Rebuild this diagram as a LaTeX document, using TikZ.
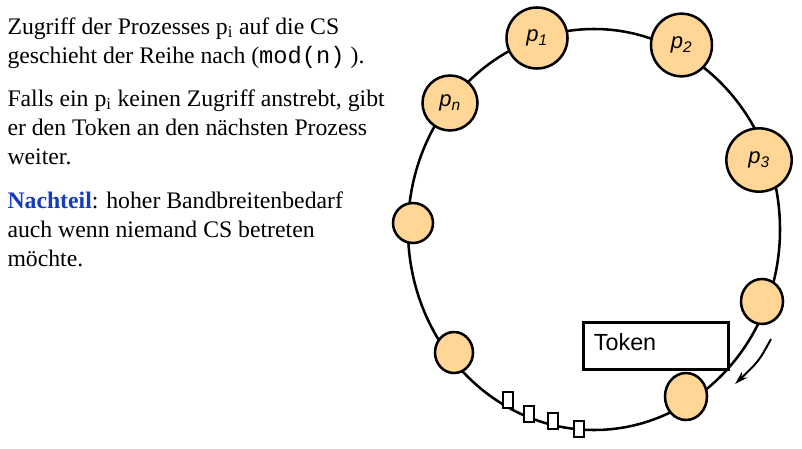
\documentclass[tikz,border=0pt]{standalone}
\usepackage{fontspec}
\setmainfont{Liberation Serif}
\setsansfont{Liberation Sans}
\setmonofont{Liberation Mono}
\usetikzlibrary{shapes.geometric,arrows.meta}

\definecolor{procfill}{RGB}{255,214,150}
\definecolor{noteblue}{RGB}{20,60,190}
\newcommand{\plabel}[1]{\textit{p}\textsubscript{\textit{#1}}}

\tikzset{every picture/.style={line width=0.75pt}}
\tikzset{
  ringline/.style={line width=1.9pt},
  pnode/.style={ellipse, draw, line width=1.9pt, fill=procfill, inner sep=0pt,
    font=\sffamily\fontsize{16.5}{16.5}\selectfont},
  slotbox/.style={draw, line width=1.5pt, fill=white, inner sep=0pt,
    minimum width=7.5pt, minimum height=12pt},
  tokenbox/.style={draw, line width=1.9pt, inner xsep=8pt, inner ysep=0pt,
    text height=21pt, text depth=14.25pt, text width=93pt, align=left,
    font=\sffamily\fontsize{17.5}{17.5}\selectfont},
  bodytext/.style={inner sep=0pt, align=left, anchor=north west,
    font=\fontsize{17.8}{21.75}\selectfont}
}

\begin{document}
\begin{tikzpicture}[x=0.75pt,y=0.75pt,yscale=-1,xscale=1]
\useasboundingbox (0,0) rectangle (802,449);

%Text [id:tx1]
\node[bodytext] (txa) at (7,17) {Zugriff der Prozesses p\textsubscript{i} auf die CS\\
  geschieht der Reihe nach (\texttt{mod(n)} ).};
%Text [id:tx2]
\node[bodytext] (txb) at (7,89) {Falls ein p\textsubscript{i} keinen Zugriff anstrebt, gibt\\
  er den Token an den nächsten Prozess\\ weiter.};
%Text [id:tx3]
\node[bodytext] (txc) at (7,191) {\textcolor{noteblue}{\textbf{Nachteil}}: hoher Bandbreitenbedarf\\
  auch wenn niemand CS betreten\\ möchte.};

%Shape: Ellipse [id:ring]
\coordinate (ringc) at (594,229.5);
\draw[ringline] (ringc) ellipse [x radius=186, y radius=200.5];

%Shape: Rectangle [id:sl1]
\node[slotbox] (sl1) at (508,400) {};
%Shape: Rectangle [id:sl2]
\node[slotbox] (sl2) at (529,414) {};
%Shape: Rectangle [id:sl3]
\node[slotbox] (sl3) at (553,420.5) {};
%Shape: Rectangle [id:sl4]
\node[slotbox] (sl4) at (578.5,429) {};

%Shape: Circle [id:p1]
\node[pnode, minimum width=45.75pt, minimum height=45.75pt] (p1) at (537,38) {\plabel{1}};
%Shape: Circle [id:p2]
\node[pnode, minimum width=45.75pt, minimum height=47pt] (p2) at (681.5,45) {\plabel{2}};
%Shape: Circle [id:p3]
\node[pnode, minimum width=49pt, minimum height=47.5pt] (p3) at (759,160) {\plabel{3}};
%Shape: Circle [id:pn]
\node[pnode, minimum width=41.25pt, minimum height=41.25pt] (pn) at (450,103) {\plabel{n}};
%Shape: Circle [id:qa]
\node[pnode, minimum width=30pt, minimum height=30pt] (qa) at (413,223) {};
%Shape: Circle [id:qb]
\node[pnode, minimum width=28.5pt, minimum height=30.75pt] (qb) at (454,352.5) {};
%Shape: Circle [id:qc]
\node[pnode, minimum width=31.5pt, minimum height=33.75pt] (qc) at (762,301.5) {};
%Shape: Circle [id:qd]
\node[pnode, minimum width=31.5pt, minimum height=35.25pt] (qd) at (686,396.5) {};

%Shape: Rectangle [id:tok]
\node[tokenbox, anchor=north west] (tok) at (582,321) {Token};

%Curve Lines [id:arr]
\coordinate (arrA) at (771,339);
\coordinate (arrB) at (735,384);
\draw[line width=1.5pt, -{Stealth[length=10pt, width=6pt]}] (arrA) .. controls (759,361) .. (arrB);

\end{tikzpicture}
\end{document}
